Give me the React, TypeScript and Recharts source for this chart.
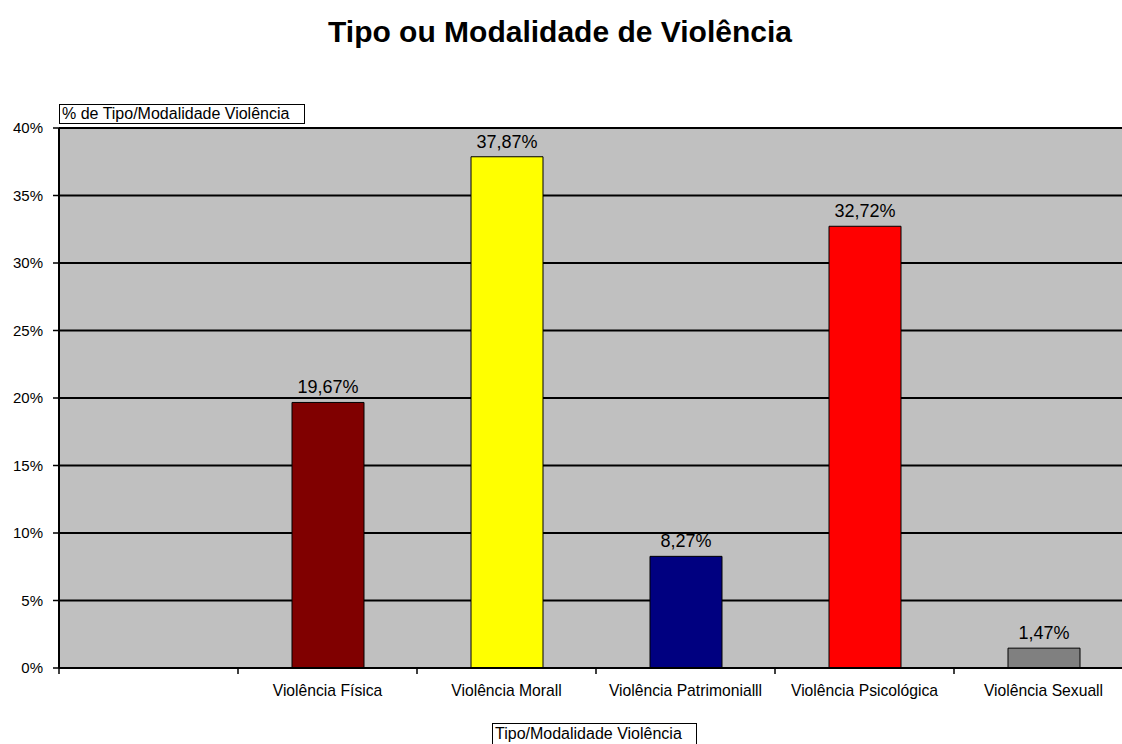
import React from "react";
import { BarChart, Bar, XAxis, YAxis, CartesianGrid, Cell, LabelList } from "recharts";

const categories = ["", "Violência Física", "Violência Morall", "Violência Patrimonialll", "Violência Psicológica", "Violência Sexuall"];
const values: (number | null)[] = [null, 19.67, 37.87, 8.27, 32.72, 1.47];
const colors = ["#C0C0C0", "#800000", "#FFFF00", "#000080", "#FF0000", "#808080"];
const yTicks = [0, 5, 10, 15, 20, 25, 30, 35, 40];

const data = categories.map((c, i) => ({ name: c, value: values[i] }));

const FONT = "Arial, 'Liberation Sans', sans-serif";
const W = 1140;
const H = 744;
const BAND = (1133 - 59) / categories.length;

const XTick = (props: any) => {
  const { x, y, payload } = props;
  return (
    <g>
      <line x1={x - BAND / 2} x2={x - BAND / 2} y1={y - 8} y2={y - 2} stroke="#000" strokeWidth={1.5} />
      <text x={x} y={y + 20} textAnchor="middle" fontFamily={FONT} fontSize={15.7} fill="#000">
        {payload.value}
      </text>
    </g>
  );
};

const fmt = (v: any) => (v == null ? "" : `${Number(v).toFixed(2).replace(".", ",")}%`);

export default function App() {
  return (
    <div style={{ position: "absolute", left: 0, top: 0, width: 1122, height: 744, overflow: "hidden", background: "#fff", fontFamily: FONT }}>
      <div style={{ position: "absolute", left: 0, top: 15, width: 1120, textAlign: "center", fontSize: 30, fontWeight: "bold", color: "#000" }}>
        Tipo ou Modalidade de Violência
      </div>
      <BarChart width={W} height={H} data={data} margin={{ top: 128, right: W - 1133, bottom: 0, left: 0 }} barSize={72}>
        <CartesianGrid vertical={false} stroke="#000" strokeWidth={1.8} fill="#C0C0C0" />
        <XAxis dataKey="name" tick={<XTick />} tickLine={false} axisLine={{ stroke: "#000", strokeWidth: 2 }} interval={0} height={H - 668} />
        <YAxis
          width={59}
          domain={[0, 40]}
          ticks={yTicks}
          tickFormatter={(v: number) => `${v}%`}
          tickSize={6}
          tickMargin={10}
          tickLine={{ stroke: "#000", strokeWidth: 1.5 }}
          axisLine={{ stroke: "#000", strokeWidth: 2 }}
          tick={{ fill: "#000", fontSize: 15, fontFamily: FONT }}
        />
        <Bar dataKey="value" isAnimationActive={false} stroke="#000" strokeWidth={1}>
          {data.map((d, i) => (
            <Cell key={i} fill={colors[i]} />
          ))}
          <LabelList dataKey="value" position="top" offset={9} formatter={fmt} fill="#000" fontSize={18} fontFamily={FONT} />
        </Bar>
      </BarChart>
      <div style={{ position: "absolute", left: 59, top: 104, width: 246, height: 20, border: "1.5px solid #000", boxSizing: "border-box", fontSize: 16, lineHeight: "17px", paddingLeft: 2, background: "#fff", color: "#000", whiteSpace: "nowrap" }}>
        % de Tipo/Modalidade Violência
      </div>
      <div style={{ position: "absolute", left: 492, top: 723, width: 205, height: 30, border: "1.5px solid #000", boxSizing: "border-box", fontSize: 16, lineHeight: "19px", paddingLeft: 2, background: "#fff", color: "#000", whiteSpace: "nowrap" }}>
        Tipo/Modalidade Violência
      </div>
    </div>
  );
}
